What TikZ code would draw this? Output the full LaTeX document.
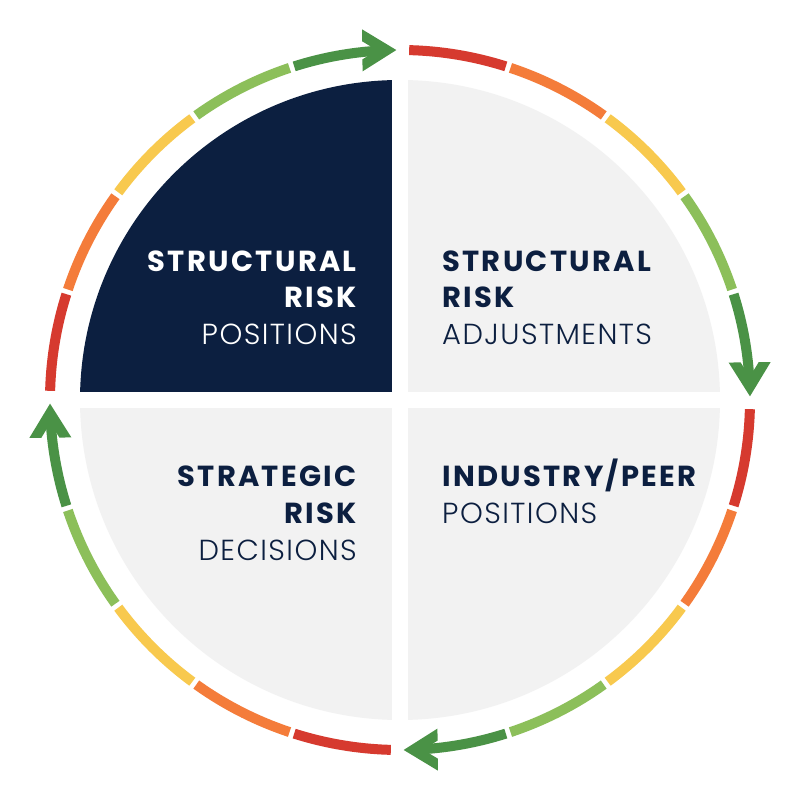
\documentclass[tikz,border=0pt]{standalone}
\usepackage{fontspec}
\setmainfont{Poppins}
\newfontfamily\lightfont{Poppins Light}[LetterSpace=5]
\newfontfamily\boldfont{Poppins}[LetterSpace=8,UprightFont=* Bold]
\definecolor{navy}{HTML}{0C1F40}
\definecolor{panel}{HTML}{F2F2F2}
\definecolor{cred}{HTML}{D63A2F}
\definecolor{corange}{HTML}{F47C3A}
\definecolor{cyellow}{HTML}{F8C94E}
\definecolor{clgreen}{HTML}{8CBF5A}
\definecolor{cdgreen}{HTML}{4A9246}
\begin{document}
\begin{tikzpicture}[x=1pt,y=1pt,
  seg/.style={line width=10pt,line cap=butt},
  boldtxt/.style={font=\fontsize{29}{29}\selectfont\boldfont,inner sep=0pt},
  lighttxt/.style={font=\fontsize{29}{29}\selectfont\lightfont,inner sep=0pt}]
\useasboundingbox (0,0) rectangle (800,800);
\fill[white] (0,0) rectangle (800,800);
\begin{scope}[shift={(400,400)}]
  % quadrants
  \begin{scope}
    \clip (0,0) circle (320pt);
    \fill[navy]  (-330,8) rectangle (-8,330);
    \fill[panel] (8,8) rectangle (330,330);
    \fill[panel] (-330,-8) rectangle (-8,-330);
    \fill[panel] (8,-8) rectangle (330,-330);
  \end{scope}
  % ring
  \foreach \A in {180,90,0,-90}{
    \draw[seg,cred]    ({\A-1.5}:350pt)  arc[start angle={\A-1.5},  end angle={\A-17.6}, radius=350pt];
    \draw[seg,corange] ({\A-18.4}:350pt) arc[start angle={\A-18.4}, end angle={\A-35.6}, radius=350pt];
    \draw[seg,cyellow] ({\A-36.4}:350pt) arc[start angle={\A-36.4}, end angle={\A-53.6}, radius=350pt];
    \draw[seg,clgreen] ({\A-54.4}:350pt) arc[start angle={\A-54.4}, end angle={\A-71.6}, radius=350pt];
    \draw[seg,cdgreen] ({\A-72.4}:350pt) arc[start angle={\A-72.4}, end angle={\A-87.8}, radius=350pt];
    \begin{scope}[shift={({\A-89.4}:350pt)}, rotate={\A-179.4}]
      \fill[cdgreen] (0,0) -- (-34,21) -- (-34,9) -- (-19.4,0) -- (-34,-9) -- (-34,-21) -- cycle;
    \end{scope}
  }
  % texts
  \node[boldtxt,text=white,anchor=base east] (tl1) at (-43,128) {STRUCTURAL};
  \node[boldtxt,text=white,anchor=base east] (tl2) at (-43,92) {RISK};
  \node[lighttxt,text=white,anchor=base east] (tl3) at (-43,55) {POSITIONS};
  \node[boldtxt,text=navy,anchor=base west] (tr1) at (42,128) {STRUCTURAL};
  \node[boldtxt,text=navy,anchor=base west] (tr2) at (42,92) {RISK};
  \node[lighttxt,text=navy,anchor=base west] (tr3) at (42,55) {ADJUSTMENTS};
  \node[boldtxt,text=navy,anchor=base east] (bl1) at (-43,-87) {STRATEGIC};
  \node[boldtxt,text=navy,anchor=base east] (bl2) at (-43,-124) {RISK};
  \node[lighttxt,text=navy,anchor=base east] (bl3) at (-43,-161) {DECISIONS};
  \node[boldtxt,text=navy,anchor=base west] (br1) at (42,-87) {INDUSTRY/PEER};
  \node[lighttxt,text=navy,anchor=base west] (br2) at (42,-124) {POSITIONS};
\end{scope}
\end{tikzpicture}
\end{document}
